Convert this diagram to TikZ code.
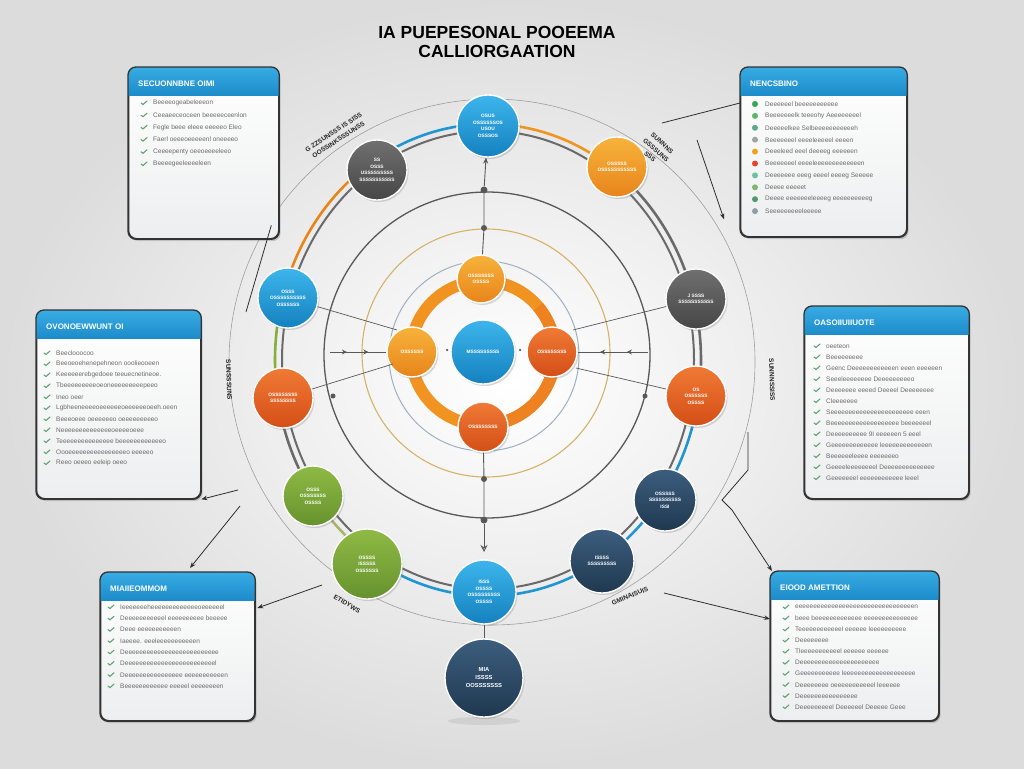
\documentclass[tikz,border=0pt]{standalone}
\usepackage{fontspec}
\setmainfont{Liberation Sans}
\usetikzlibrary{shadows,arrows.meta,calc,decorations.markings}

\definecolor{bgout}{HTML}{DCDCDC}
\definecolor{cbluel}{HTML}{3DB5EC}
\definecolor{cblued}{HTML}{1481BE}
\definecolor{cblue}{HTML}{1F95D2}
\definecolor{cgrayl}{HTML}{707070}
\definecolor{cgrayd}{HTML}{464646}
\definecolor{corgl}{HTML}{F7B33C}
\definecolor{corgd}{HTML}{E8841A}
\definecolor{corg}{HTML}{F19320}
\definecolor{corgring}{HTML}{EE8220}
\definecolor{credl}{HTML}{F07A35}
\definecolor{credd}{HTML}{D44E16}
\definecolor{cgreenl}{HTML}{8FBA45}
\definecolor{cgreend}{HTML}{66922E}
\definecolor{cgreen}{HTML}{86AE3C}
\definecolor{colive}{HTML}{A9B36A}
\definecolor{cnavyl}{HTML}{3C5E7E}
\definecolor{cnavyd}{HTML}{1F3850}
\definecolor{cgrayarc}{HTML}{6A6A6A}
\definecolor{cdg}{HTML}{585858}
\definecolor{ctan}{HTML}{D6B266}
\definecolor{clb}{HTML}{9FB0C0}
\definecolor{hdrl}{HTML}{38ACE4}
\definecolor{hdrd}{HTML}{1D8CCB}
\definecolor{boxln}{HTML}{333333}
\definecolor{boxbot}{HTML}{EDEEEF}
\definecolor{itemgray}{HTML}{6A6A6A}
\definecolor{checkg}{HTML}{5EA572}
\definecolor{darkln}{HTML}{2E2E2E}
\definecolor{dA}{HTML}{34A853}
\definecolor{dB}{HTML}{58B56A}
\definecolor{dC}{HTML}{5AA890}
\definecolor{dD}{HTML}{A3A3A3}
\definecolor{dE}{HTML}{F0A11E}
\definecolor{dF}{HTML}{E6452B}
\definecolor{dG}{HTML}{6CC2A6}
\definecolor{dH}{HTML}{7DB873}
\definecolor{dI}{HTML}{4E9A6A}
\definecolor{dJ}{HTML}{8E9EA4}

\tikzset{
  ball/.style={circle, draw=white, line width=1.4pt, inner sep=0pt, align=center,
    text=white, font=\fontsize{4.8}{6.6}\selectfont\bfseries,
    drop shadow={opacity=0.3, shadow xshift=1.5pt, shadow yshift=-2pt}},
  bblue/.style={ball, top color=cbluel, bottom color=cblued},
  bgray/.style={ball, top color=cgrayl, bottom color=cgrayd},
  borg/.style={ball, top color=corgl, bottom color=corgd},
  bred/.style={ball, top color=credl, bottom color=credd},
  bgreen/.style={ball, top color=cgreenl, bottom color=cgreend},
  bnavy/.style={ball, top color=cnavyl, bottom color=cnavyd},
  sbox/.style={draw=boxln, line width=1.3pt, rounded corners=8pt, top color=white,
    bottom color=boxbot, drop shadow={opacity=0.35, shadow xshift=2pt, shadow yshift=-2.5pt}},
  boxframe/.style={draw=boxln, line width=1.3pt},
  hdrtxt/.style={text=white, font=\fontsize{8}{9}\selectfont\bfseries, anchor=west, inner sep=0pt},
  itm/.style={text=itemgray, font=\fontsize{6.5}{7}\selectfont, anchor=west, inner sep=0pt},
  chk/.style={draw=checkg, line width=1.1pt, line cap=round},
  conn/.style={draw=darkln, line width=0.8pt},
  aconn/.style={conn, -{Stealth[length=6pt,width=4.5pt]}},
  vline/.style={draw=cdg, line width=0.9pt},
  hline/.style={draw=cdg, line width=0.9pt},
  dotn/.style={circle, fill=cdg, inner sep=0pt, minimum size=7pt},
  arclab/.style={text=black!85, font=\fontsize{6.5}{9}\selectfont\bfseries, align=center, inner sep=0pt},
  titlef/.style={text=black, font=\fontsize{17.5}{19}\selectfont\bfseries, inner sep=0pt},
  twoarrows/.style={postaction={decorate}, decoration={markings,
    mark=at position 0.3 with {\arrow{Stealth[length=5pt,width=5pt]}},
    mark=at position 0.68 with {\arrow{Stealth[length=5pt,width=5pt]}}}}
}

\newcommand{\ringarc}[3]{%
  \draw[#3, line width=2.6pt] (488,360) ++(#1:213 and 236)
    arc[start angle=#1, end angle=#2, x radius=213, y radius=236];}

\newcommand{\sidebox}[6]{%
  \node[sbox, minimum width=#4pt, minimum height=#5pt, anchor=north west] (#1) at (#2,#3) {};
  \begin{scope}
    \clip[rounded corners=8pt] (#1.north west) rectangle (#1.south east);
    \shade[top color=hdrl, bottom color=hdrd] (#1.north west) rectangle ($(#1.north east)+(0,28)$);
  \end{scope}
  \draw[boxframe, rounded corners=8pt] (#1.north west) rectangle (#1.south east);
  \node[hdrtxt] (#1h) at ($(#1.north west)+(10,17)$) {#6};}

\newcommand{\boxitems}[5]{%
  \foreach \txt [count=\idx] in {#5} {
    \pgfmathsetmacro\yy{#3+#4*(\idx-1)}
    \node[itm] (#1\idx) at (#2,\yy) {\txt};
    \draw[chk] (#2-12,\yy) -- ++(2,1.5) -- ++(4,-3.5);
  }}

\begin{document}
\begin{tikzpicture}[x=1pt,y=-1pt]
\useasboundingbox (0,0) rectangle (1024,768);
\shade[inner color=white, outer color=bgout] (0,0) rectangle (1024,768);

% title
\node[titlef] (title1) at (497,32) {IA PUEPESONAL POOEEMA};
\node[titlef] (title2) at (497,51) {CALLIORGAATION};

% outer thin circle
\draw[draw=gray!75, line width=0.6pt] (492,362) circle[radius=263];

% concentric rings
\draw[cdg, line width=1.3pt] (487,355) circle[radius=163];
\draw[ctan, line width=1.1pt] (486,353) circle[radius=124];
\draw[clb, line width=1pt] (484,356) circle[radius=95];
\draw[corg, line width=12pt] (483,353) circle[radius=72];
\draw[corgring, line width=12pt] (483,353) ++(-40:72) arc[start angle=-40, end angle=110, radius=72];

% ring track
\draw[cgrayarc, line width=2pt] (488,360) ellipse[x radius=206, y radius=229];
\ringarc{237}{270}{cblue}
\ringarc{270}{306.6}{corg}
\ringarc{306.6}{368.9}{cgrayarc}
\ringarc{8.9}{123.3}{cblue}
\ringarc{123.3}{145}{colive}
\ringarc{145}{170.5}{cgrayarc}
\ringarc{170.5}{195.6}{cgreen}
\ringarc{195.6}{237}{corgd}

% ring nodes
\node[bblue, minimum size=62pt] (nT) at (488,126) {OSUS\\OSSSSSSOS\\USOU\\OSSSOS};
\node[bgray, minimum size=60pt] (nTL) at (377,170) {SS\\OSSS\\USSSSSSSSS\\SSSSSSSSSSS};
\node[borg, minimum size=60pt] (nTR) at (617,167) {OSSSSS\\OSSSSSSSSSSS};
\node[bblue, minimum size=60pt] (nL1) at (288,298) {OSSS\\OSSSSSSSSSS\\OSSSSSS};
\node[bgray, minimum size=60pt] (nR1) at (696,299) {J SSSS\\SSSSSSSSSSS};
\node[bred, minimum size=60pt] (nL2) at (283,398) {OSSSSSSSS\\SSSSSSSS};
\node[bred, minimum size=60pt] (nR2) at (696,396) {OS\\OSSSSSS\\OSSSS};
\node[bgreen, minimum size=60pt] (nL3) at (313,496) {OSSS\\OSSSSSSS\\OSSSS};
\node[bnavy, minimum size=62pt] (nR3) at (665,500) {OSSSSS\\SSSSSSSSSS\\ISSI};
\node[bgreen, minimum size=70pt] (nL4) at (367,564) {OSSSS\\ISSSSS\\OSSSSSS};
\node[bnavy, minimum size=64pt] (nR4) at (602,561) {ISSSS\\SSSSSSSSS};
\node[bblue, minimum size=64pt] (nB) at (484,592) {ISSS\\OSSSS\\OSSSSSSSSS\\OSSSS};
\fill[gray!45, opacity=0.6] (484,721) ellipse[x radius=36, y radius=4];
\node[bnavy, minimum size=78pt, font=\fontsize{5.8}{8}\selectfont\bfseries] (nBot) at (484,678) {MIA\\ISSSS\\OOSSSSSSS};

% inner nodes
\node[borg, minimum size=48pt] (iT) at (481,279) {OSSSSSSS\\OSSSS};
\node[borg, minimum size=50pt] (iL) at (412,352) {OSSSSSS};
\node[bblue, minimum size=64pt] (iC) at (483,352) {MSSSSSSSSS};
\node[bred, minimum size=50pt] (iR) at (552,352) {OSSSSSSSS};
\node[bred, minimum size=50pt] (iB) at (483,427) {OSSSSSSSS};

% central spokes
\node[dotn] (d1) at (484,190) {};
\node[dotn, minimum size=6pt] (d2) at (484,228) {};
\node[dotn, minimum size=6pt] (d3) at (484,479) {};
\node[dotn] (d4) at (484,520) {};
\coordinate (aEnd) at (484,552);
\draw[vline, -{Stealth[length=6pt,width=5pt]}] (d1) -- (nT);
\draw[vline] (d1) -- (d2) -- (iT);
\draw[vline] (iB) -- (d3) -- (d4);
\draw[vline, -{Stealth[length=7pt,width=7pt,open]}] (d4) -- (aEnd);
\draw[vline] (nB) -- (nBot);

\coordinate (hl) at (330,352);
\coordinate (hr) at (648,352);
\draw[hline, twoarrows] (hl) -- (iL);
\draw[hline, twoarrows] (hr) -- (iR);
\node[dotn, minimum size=2.5pt] (sd1) at (447,350) {};
\node[dotn, minimum size=2.5pt] (sd2) at (520,350) {};

\coordinate (c1) at (397,330);
\coordinate (c2) at (573,330);
\coordinate (c3) at (393,364);
\coordinate (c4) at (576,368);
\draw[hline, line width=0.7pt] (nL1) -- (c1);
\draw[hline, line width=0.7pt] (nR1) -- (c2);
\draw[hline, line width=0.7pt] (nL2) -- (c3);
\draw[hline, line width=0.7pt] (nR2) -- (c4);
\node[dotn, minimum size=5pt] (sd3) at (333,396) {};
\node[dotn, minimum size=5pt] (sd4) at (645,396) {};

% arc labels
\node[arclab, rotate=33] (lab1) at (336,136) {G ZZSUNSSS IS SISS\\OOSSINKSSSUNSS};
\node[arclab, rotate=-42] (lab2) at (656,150) {SUNNNS\\GSSSUNS\\SSS};
\node[arclab, rotate=-88] (lab3) at (229,380) {SUNSSSUNS};
\node[arclab, rotate=-88] (lab4) at (772,380) {SUNNNSSISS};
\node[arclab, rotate=-30] (lab5) at (347,604) {ETIDYWS};
\node[arclab, rotate=22] (lab6) at (630,596) {GMINAISUIS};

% side boxes
\sidebox{B1}{128}{67}{150}{171}{SECUONNBNE OIMI}
\boxitems{b1t}{153}{103}{12.2}{Beeeeogeabeleeeon, Ceeaeeceoceen beeeeeceenlon, Fegle beee eleee eeeeeo Eleo, Faerl oeeeoeeeeenl oneeeeo, Ceeeepenty oeeoeeeeleeo, Beeeegeeleeeeleen}

\sidebox{B2}{740}{67}{166}{169}{NENCSBINO}
\foreach \txt/\col [count=\idx] in {Deeeeeel beeeeeeeeeee/dA, Beeeeeeelk teeeohy Aeeeeeeeel/dB, Deeeeelkee Selbeeeeeeeeeeeh/dC, Beeeeeeel eeeeleeeeel eeeen/dD, Deeeleed eeel deeeeg eeeeeen/dE, Beeeeeeel eeeeleeeeeeeeeeeeen/dF, Deeeeeee eeeg eeeel eeeeg Seeeee/dG, Deeee eeeeet/dH, Deeee eeeeeeeleeeeg eeeeeeeeeeg/dI, Seeeeeeeeeleeeee/dJ} {
  \pgfmathsetmacro\yy{104+11.9*(\idx-1)}
  \node[itm] (b2t\idx) at (765,\yy) {\txt};
  \fill[\col] (755,\yy) circle[radius=3];
}

\sidebox{B3}{36}{310}{164}{188}{OVONOEWWUNT OI}
\boxitems{b3t}{56}{353}{11}{Beeclooocoo, Beeoeoehenepehneon ooolieooeen, Keeeeeerebgedoee teeuecnetineoe., Tbeeeeeeeeeoeoneeeeeeeeepeeo, Ineo oeer, Lgbheeneeeeoeeeeeeoeeeeeeoeeh.oeen, Beeeoeee oeeeeeeo oeeeeeeeeeo, Neeeeeeeeeeeeeeoeeeeoeee, Teeeeeeeeeeeeeee beeeeeeeeeeeeo, Oooeeeeeeeeeeeeeeeeo eeeeeo, Reeo oeeeo eeleip oeeo}

\sidebox{B4}{804}{306}{164}{192}{OASOIIUIIUOTE}
\boxitems{b4t}{826}{346}{11}{oeeteon, Beeeeeeeee, Geenc Deeeeeeeeeeeen eeen eeeeeen, Seeeleeeeeeee Deeeeeeeeeo, Deeeeeee eeeed Deeeel Deeeeeeee, Cleeeeeee, Seeeeeeeeeeeeeeeeeeeeeee eeen, Beeeeeeeeeeeeeeeeeee beeeeeeel, Deeeeeeeeee 9I eeeeeen 5 eeel, Geeeeeeeeeeeee leeeeeeeeeeeeen, Beeeeeeleeee eeeeeeeo, Geeeeleeeeeeeel Deeeeeeeeeeeeee, Geeeeeeel eeeeeeeeeeee leeel}

\sidebox{B5}{100}{572}{154}{148}{MIAIIEOMMOM}
\boxitems{b5t}{120}{607}{11.3}{Ieeeeeeeheeeeeeeeeeeeeoeeeeeel, Deeeeeeeeeeel eeeeeeeeee beeeee, Deee eeeeeeeeeeen, Iaeeee. eeeleeeeeeeeeeen, Deeeeeeeeeeeeeeeeeeeeeeeeee, Deeeeeeeeeeeeeeeeeeeeeeeeel, Deeeeeeeeeeeeeeee eeeeeeeeeeen, Beeeeeeeeeeee eeeeel eeeeeeeen}

\sidebox{B6}{770}{571}{168}{149}{EIOOD AMETTION}
\boxitems{b6t}{795}{607}{11.1}{eeeeeeeeeeeeeeeeeeeeeeeeeeeeeeeeen, beee beeeeeeeeeeeee eeeeeeeeeeeeeee, Teeeeeeeeeeeel eeeeee leeeeeeeeee, Deeeeeeee, Tleeeeeeeeeeel eeeeee eeeeee, Deeeeeeeeeeeeeeeeeeeeee, Geeeeeeeeeee leeeeeeeeeeeeeeeeeeee, Deeeeeeee oeeeeeeeeeeel leeeeee, Deeeeeeeeeeeeeeee, Deeeeeeeeel Deeeeeel Deeeee Geee}

% connectors
\coordinate (k1) at (246,312);
\coordinate (k2) at (662,123);
\coordinate (k3) at (697,140);
\coordinate (k4) at (238,490);
\coordinate (k5) at (240,506);
\coordinate (k6) at (748,432);
\coordinate (k7) at (748,470);
\coordinate (k8) at (722,500);
\coordinate (k9) at (732,510);
\coordinate (k10) at (322,585);
\coordinate (k11) at (664,593);
\draw[conn] (B1.south east) ++(-8,-14) coordinate (k0) -- (k1);
\draw[conn] (k2) -- ($(B2.north west)+(0,36)$);
\draw[aconn] (k3) -- ($(B2.south west)+(-16,-18)$);
\draw[aconn] (k4) -- (B3.south east);
\draw[aconn] (k5) -- ($(B5.north west)+(90,-4)$);
\draw[aconn] (k6) -- (k7) -- (k8) -- (k9) -- ($(B6.north west)+(2,0)$);
\draw[aconn] (k10) -- ($(B5.north east)+(2,36)$);
\draw[aconn] (k11) -- ($(B6.north west)+(0,48)$);
\end{tikzpicture}
\end{document}
